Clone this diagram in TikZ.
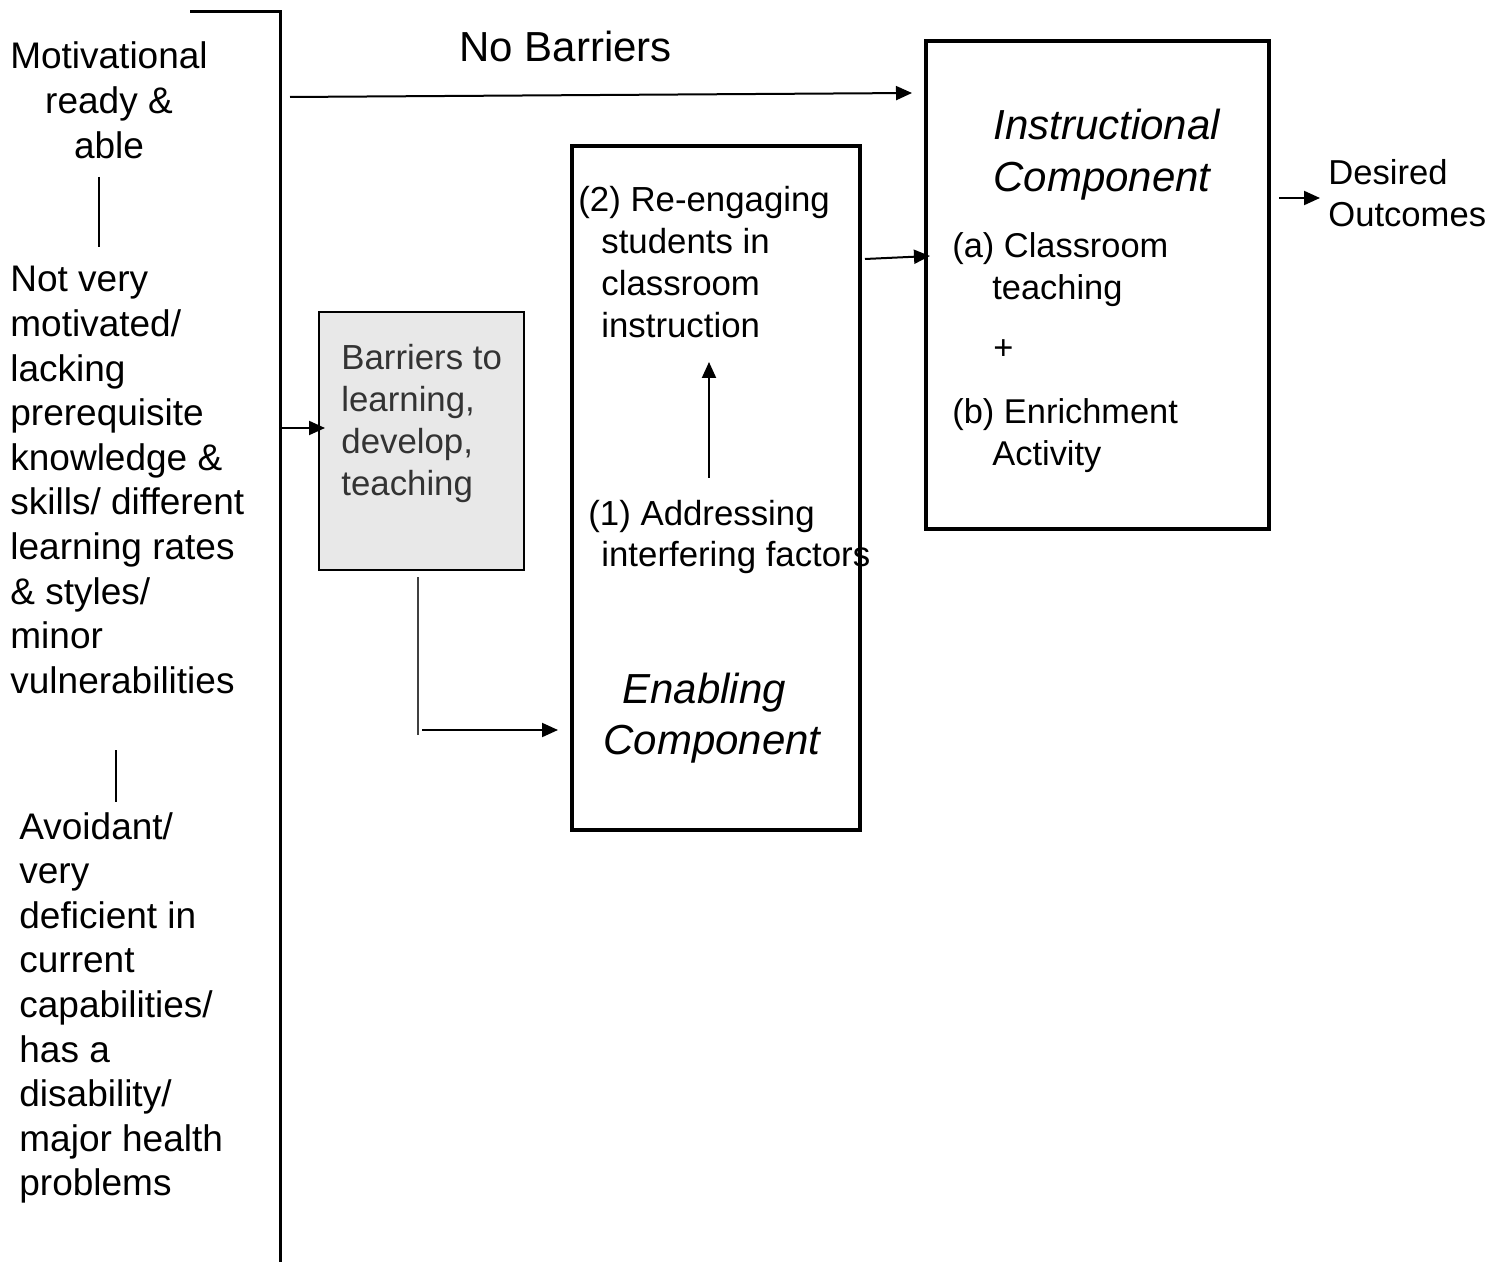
\documentclass[tikz,border=0pt]{standalone}
\usepackage{fontspec}
\setmainfont{Liberation Sans}
\usetikzlibrary{arrows.meta}
% stacked lines whose first baseline is the node's base
\newcommand\colL[1]{\begin{tabular}[t]{@{}l@{}}#1\end{tabular}}
\newcommand\colC[1]{\begin{tabular}[t]{@{}c@{}}#1\end{tabular}}
\begin{document}
\begin{tikzpicture}[x=0.5pt,y=-0.5pt,
  txt/.style={inner sep=0pt,anchor=base west},
  side/.style={txt,font=\fontsize{18.5}{22.3}\selectfont},
  mid/.style={txt,font=\fontsize{17.2}{20.9}\selectfont},
  big/.style={txt,font=\fontsize{21}{25.5}\selectfont},
  bigit/.style={txt,font=\fontsize{21}{25.5}\selectfont\itshape},
  comp/.style={draw,line width=2.3pt,inner sep=0pt},
  link/.style={line width=1pt,-{Triangle[length=8pt,width=7pt]}},
  rule/.style={line width=1pt},
]
\useasboundingbox (0,0) rectangle (1505,1262);

% left spine
\draw[line width=1.5pt] (190,12) -- (280,12) -- (280,1262);

% learner categories
\node[side,anchor=base] (ready) at (109,69) {\colC{Motivational\\ready \&\\able}};
\node[side] (notvery) at (10,292) {\colL{Not very\\motivated/\\lacking\\prerequisite\\knowledge \&\\skills/ different\\learning rates\\\& styles/\\minor\\vulnerabilities}};
\node[side] (avoid) at (19,839) {\colL{Avoidant/\\very\\deficient in\\current\\capabilities/\\has a\\disability/\\major health\\problems}};
\coordinate (r1) at (99,177); \coordinate (r2) at (99,247);
\coordinate (r3) at (116,750); \coordinate (r4) at (116,802);
\draw[rule] (r1) -- (r2);
\draw[rule] (r3) -- (r4);

% boxes
\node[draw,line width=1pt,fill=black!9,minimum width=102.5pt,minimum height=128.5pt] (barrier) at (421,441) {};
\node[mid,text=black!80,font=\fontsize{17.4}{20.9}\selectfont] (bartext) at (341,370) {\colL{Barriers to\\learning,\\develop,\\teaching}};

\node[comp,minimum width=144pt,minimum height=342pt] (enab) at (716,488) {};
\node[comp,minimum width=171.5pt,minimum height=244pt] (instr) at (1097.5,285) {};

% enabling component contents
\node[txt,font=\fontsize{17.4}{20.85}\selectfont] (reeng) at (601,212) {\colL{\hspace*{-11.5pt}(2) Re-engaging\\students in\\classroom\\instruction}};
\node[txt,font=\fontsize{17.4}{20.85}\selectfont] (addr) at (601,525) {\colL{\hspace*{-6.5pt}(1) Addressing\\interfering factors}};
\node[bigit] (enabt) at (603,703) {\colL{\hspace*{9.5pt}Enabling\\Component}};

% instructional component contents
\node[bigit,font=\fontsize{21}{26}\selectfont\itshape] (instrt) at (993,140) {\colL{Instructional\\Component}};
\node[mid] (clsr) at (992,258) {\colL{\hspace*{-20pt}(a) Classroom\\teaching}};
\node[mid] (plus) at (993,360) {+};
\node[mid] (enr) at (992,424) {\colL{\hspace*{-20pt}(b) Enrichment\\Activity}};

% other labels
\node[big] (nobar) at (459,62) {No Barriers};
\node[mid,font=\fontsize{17.3}{21}\selectfont] (outc) at (1328,185) {\colL{Desired\\Outcomes}};

% connectors
\coordinate (nb0) at (290,97); \coordinate (nb1) at (912,93);
\draw[link] (nb0) -- (nb1);
\coordinate (sp) at (282,428); \coordinate (bi) at (325,428);
\draw[link] (sp) -- (bi);
\coordinate (d0) at (418,577); \coordinate (d1) at (418,735);
\draw[rule,draw=black!75] (d0) -- (d1);
\coordinate (h0) at (422,730); \coordinate (h1) at (558,730);
\draw[link] (h0) -- (h1);
\coordinate (u0) at (709,478); \coordinate (u1) at (709,362);
\draw[link] (u0) -- (u1);
\coordinate (e0) at (865,259); \coordinate (e1) at (930,256);
\draw[link] (e0) -- (e1);
\coordinate (o0) at (1279,198); \coordinate (o1) at (1320,198);
\draw[link] (o0) -- (o1);
\end{tikzpicture}
\end{document}
